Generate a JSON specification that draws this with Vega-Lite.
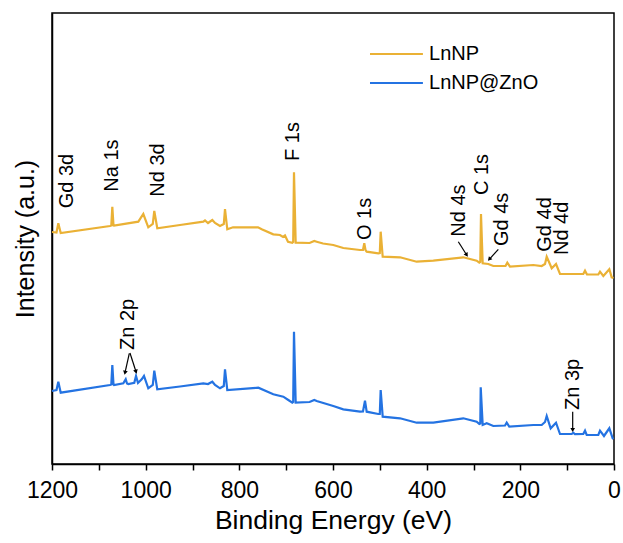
{
  "$schema": "https://vega.github.io/schema/vega-lite/v6.json",
  "autosize": "none",
  "width": 562,
  "height": 451,
  "padding": {"left": 52, "top": 13, "right": 9, "bottom": 79},
  "background": "white",
  "config": {
    "font": "Liberation Sans",
    "view": {"stroke": "black", "strokeWidth": 1.5},
    "axis": {"domainColor": "black", "domainWidth": 1.5, "tickColor": "black", "tickWidth": 1.5, "labelColor": "black", "titleColor": "black", "titleFontWeight": "normal", "grid": false}
  },
  "datasets": {
    "spectra": [
      {"s": "LnNP", "e": 1200, "i": 232}, {"s": "LnNP", "e": 1190.4, "i": 231.5}, {"s": "LnNP", "e": 1186.5, "i": 240.7}, {"s": "LnNP", "e": 1181.4, "i": 231},
      {"s": "LnNP", "e": 1076.1, "i": 238}, {"s": "LnNP", "e": 1073.4, "i": 238.5}, {"s": "LnNP", "e": 1071.2, "i": 257.3}, {"s": "LnNP", "e": 1068.7, "i": 238.5}, {"s": "LnNP", "e": 1067.6, "i": 238.3},
      {"s": "LnNP", "e": 1015.7, "i": 242.3}, {"s": "LnNP", "e": 1005.0, "i": 250}, {"s": "LnNP", "e": 994.4, "i": 236.7}, {"s": "LnNP", "e": 984.8, "i": 240}, {"s": "LnNP", "e": 981.6, "i": 253}, {"s": "LnNP", "e": 975.2, "i": 235.7},
      {"s": "LnNP", "e": 926.7, "i": 239}, {"s": "LnNP", "e": 876.9, "i": 242.3}, {"s": "LnNP", "e": 873.3, "i": 243.5}, {"s": "LnNP", "e": 866.9, "i": 241}, {"s": "LnNP", "e": 857.7, "i": 244}, {"s": "LnNP", "e": 851.9, "i": 241},
      {"s": "LnNP", "e": 841.3, "i": 238}, {"s": "LnNP", "e": 833.2, "i": 240}, {"s": "LnNP", "e": 830.6, "i": 255}, {"s": "LnNP", "e": 825.7, "i": 234.7},
      {"s": "LnNP", "e": 813.5, "i": 236.7}, {"s": "LnNP", "e": 760.1, "i": 236.7}, {"s": "LnNP", "e": 752.2, "i": 234.7}, {"s": "LnNP", "e": 727.5, "i": 229.7}, {"s": "LnNP", "e": 713.2, "i": 229}, {"s": "LnNP", "e": 706.8, "i": 227}, {"s": "LnNP", "e": 702.5, "i": 228.5},
      {"s": "LnNP", "e": 696.1, "i": 222.3}, {"s": "LnNP", "e": 686.9, "i": 221.3}, {"s": "LnNP", "e": 685.0, "i": 222}, {"s": "LnNP", "e": 683.3, "i": 291.7}, {"s": "LnNP", "e": 679.7, "i": 221.3},
      {"s": "LnNP", "e": 650, "i": 221}, {"s": "LnNP", "e": 640, "i": 223}, {"s": "LnNP", "e": 634.8, "i": 222.3}, {"s": "LnNP", "e": 621.3, "i": 220.5}, {"s": "LnNP", "e": 599.4, "i": 219}, {"s": "LnNP", "e": 578.0, "i": 216}, {"s": "LnNP", "e": 542.3, "i": 214},
      {"s": "LnNP", "e": 536.0, "i": 214}, {"s": "LnNP", "e": 533.2, "i": 220.7}, {"s": "LnNP", "e": 530.6, "i": 214}, {"s": "LnNP", "e": 528.1, "i": 212.3}, {"s": "LnNP", "e": 503.3, "i": 210.7},
      {"s": "LnNP", "e": 500.1, "i": 211}, {"s": "LnNP", "e": 498.2, "i": 232.3}, {"s": "LnNP", "e": 493.9, "i": 207.3}, {"s": "LnNP", "e": 456.9, "i": 206.7}, {"s": "LnNP", "e": 421.3, "i": 202.3}, {"s": "LnNP", "e": 385.8, "i": 203.3},
      {"s": "LnNP", "e": 321.8, "i": 206.7}, {"s": "LnNP", "e": 293.2, "i": 203.3}, {"s": "LnNP", "e": 287.6, "i": 201.3}, {"s": "LnNP", "e": 285.5, "i": 202}, {"s": "LnNP", "e": 284.0, "i": 250}, {"s": "LnNP", "e": 280.4, "i": 200.7},
      {"s": "LnNP", "e": 268.4, "i": 200}, {"s": "LnNP", "e": 257.7, "i": 198}, {"s": "LnNP", "e": 231.7, "i": 198}, {"s": "LnNP", "e": 227.8, "i": 201.3}, {"s": "LnNP", "e": 222.1, "i": 197.3},
      {"s": "LnNP", "e": 172.3, "i": 199}, {"s": "LnNP", "e": 154.4, "i": 198}, {"s": "LnNP", "e": 147.3, "i": 200}, {"s": "LnNP", "e": 143.7, "i": 207.3}, {"s": "LnNP", "e": 133.0, "i": 195.7}, {"s": "LnNP", "e": 123.8, "i": 200}, {"s": "LnNP", "e": 115.3, "i": 190},
      {"s": "LnNP", "e": 65.6, "i": 190}, {"s": "LnNP", "e": 61.9, "i": 193.3}, {"s": "LnNP", "e": 57.7, "i": 189.5}, {"s": "LnNP", "e": 33.5, "i": 189.5}, {"s": "LnNP", "e": 29.9, "i": 192.3}, {"s": "LnNP", "e": 22.8, "i": 188}, {"s": "LnNP", "e": 10.0, "i": 194.7}, {"s": "LnNP", "e": 4.9, "i": 186.7}, {"s": "LnNP", "e": 1, "i": 186},

      {"s": "LnNP@ZnO", "e": 1200, "i": 73}, {"s": "LnNP@ZnO", "e": 1190.4, "i": 74}, {"s": "LnNP@ZnO", "e": 1186.5, "i": 82.3}, {"s": "LnNP@ZnO", "e": 1181.4, "i": 71.3},
      {"s": "LnNP@ZnO", "e": 1076.1, "i": 79}, {"s": "LnNP@ZnO", "e": 1073.4, "i": 79.5}, {"s": "LnNP@ZnO", "e": 1071.2, "i": 99}, {"s": "LnNP@ZnO", "e": 1068.7, "i": 79.5}, {"s": "LnNP@ZnO", "e": 1067.6, "i": 79},
      {"s": "LnNP@ZnO", "e": 1047.7, "i": 80.7}, {"s": "LnNP@ZnO", "e": 1042.6, "i": 84.7}, {"s": "LnNP@ZnO", "e": 1039.8, "i": 80.5}, {"s": "LnNP@ZnO", "e": 1037.1, "i": 80}, {"s": "LnNP@ZnO", "e": 1024.3, "i": 81.3},
      {"s": "LnNP@ZnO", "e": 1020.6, "i": 88}, {"s": "LnNP@ZnO", "e": 1016.4, "i": 81}, {"s": "LnNP@ZnO", "e": 1008.5, "i": 84.7}, {"s": "LnNP@ZnO", "e": 1003.6, "i": 88}, {"s": "LnNP@ZnO", "e": 994.4, "i": 75.7},
      {"s": "LnNP@ZnO", "e": 984.8, "i": 79}, {"s": "LnNP@ZnO", "e": 981.6, "i": 93.3}, {"s": "LnNP@ZnO", "e": 975.2, "i": 74.7}, {"s": "LnNP@ZnO", "e": 926.7, "i": 77.5}, {"s": "LnNP@ZnO", "e": 876.9, "i": 80.7},
      {"s": "LnNP@ZnO", "e": 866.9, "i": 80}, {"s": "LnNP@ZnO", "e": 857.7, "i": 82.3}, {"s": "LnNP@ZnO", "e": 851.9, "i": 79}, {"s": "LnNP@ZnO", "e": 841.3, "i": 75.7},
      {"s": "LnNP@ZnO", "e": 833.2, "i": 78}, {"s": "LnNP@ZnO", "e": 830.6, "i": 94.7}, {"s": "LnNP@ZnO", "e": 825.7, "i": 74}, {"s": "LnNP@ZnO", "e": 759.5, "i": 76.3},
      {"s": "LnNP@ZnO", "e": 727.5, "i": 69.7}, {"s": "LnNP@ZnO", "e": 706.1, "i": 67.3}, {"s": "LnNP@ZnO", "e": 695.4, "i": 64}, {"s": "LnNP@ZnO", "e": 686.9, "i": 61.3},
      {"s": "LnNP@ZnO", "e": 685.0, "i": 62}, {"s": "LnNP@ZnO", "e": 683.3, "i": 132.3}, {"s": "LnNP@ZnO", "e": 679.7, "i": 61.3},
      {"s": "LnNP@ZnO", "e": 650, "i": 62}, {"s": "LnNP@ZnO", "e": 640, "i": 64}, {"s": "LnNP@ZnO", "e": 634.8, "i": 63}, {"s": "LnNP@ZnO", "e": 599.4, "i": 58}, {"s": "LnNP@ZnO", "e": 578.0, "i": 54.7}, {"s": "LnNP@ZnO", "e": 542.3, "i": 52.3},
      {"s": "LnNP@ZnO", "e": 536.0, "i": 52.5}, {"s": "LnNP@ZnO", "e": 531.7, "i": 63.3}, {"s": "LnNP@ZnO", "e": 528.1, "i": 52.3}, {"s": "LnNP@ZnO", "e": 503.3, "i": 50},
      {"s": "LnNP@ZnO", "e": 500.1, "i": 50}, {"s": "LnNP@ZnO", "e": 498.2, "i": 74}, {"s": "LnNP@ZnO", "e": 493.9, "i": 47.3}, {"s": "LnNP@ZnO", "e": 456.9, "i": 45.7}, {"s": "LnNP@ZnO", "e": 421.3, "i": 41.3}, {"s": "LnNP@ZnO", "e": 385.8, "i": 41.3},
      {"s": "LnNP@ZnO", "e": 321.8, "i": 45.7}, {"s": "LnNP@ZnO", "e": 293.2, "i": 42.3}, {"s": "LnNP@ZnO", "e": 287.6, "i": 40}, {"s": "LnNP@ZnO", "e": 285.5, "i": 40.5}, {"s": "LnNP@ZnO", "e": 284.6, "i": 76.7}, {"s": "LnNP@ZnO", "e": 280.4, "i": 39},
      {"s": "LnNP@ZnO", "e": 271.8, "i": 40.7}, {"s": "LnNP@ZnO", "e": 257.7, "i": 38}, {"s": "LnNP@ZnO", "e": 232.7, "i": 38.5}, {"s": "LnNP@ZnO", "e": 229.1, "i": 41.3}, {"s": "LnNP@ZnO", "e": 223.6, "i": 37.3},
      {"s": "LnNP@ZnO", "e": 172.3, "i": 39}, {"s": "LnNP@ZnO", "e": 154.4, "i": 39}, {"s": "LnNP@ZnO", "e": 147.3, "i": 42}, {"s": "LnNP@ZnO", "e": 143.7, "i": 48}, {"s": "LnNP@ZnO", "e": 135.2, "i": 35.7}, {"s": "LnNP@ZnO", "e": 123.8, "i": 41.3}, {"s": "LnNP@ZnO", "e": 115.3, "i": 30},
      {"s": "LnNP@ZnO", "e": 90.3, "i": 30}, {"s": "LnNP@ZnO", "e": 86.9, "i": 31.3}, {"s": "LnNP@ZnO", "e": 83.3, "i": 29.8}, {"s": "LnNP@ZnO", "e": 65.6, "i": 30}, {"s": "LnNP@ZnO", "e": 61.9, "i": 33.3}, {"s": "LnNP@ZnO", "e": 58.3, "i": 29},
      {"s": "LnNP@ZnO", "e": 33.5, "i": 29}, {"s": "LnNP@ZnO", "e": 29.9, "i": 33.3}, {"s": "LnNP@ZnO", "e": 21.4, "i": 28}, {"s": "LnNP@ZnO", "e": 10.0, "i": 35.7}, {"s": "LnNP@ZnO", "e": 2.8, "i": 25.7}, {"s": "LnNP@ZnO", "e": 1, "i": 25}
    ],
    "labels": [
      {"t": "Gd 3d", "e": 1168.7, "i": 255.7},
      {"t": "Na 1s", "e": 1072.6, "i": 272.3},
      {"t": "Nd 3d", "e": 973.0, "i": 267.3},
      {"t": "F 1s", "e": 684.8, "i": 303},
      {"t": "O 1s", "e": 531.7, "i": 224},
      {"t": "Nd 4s", "e": 330.3, "i": 227.3},
      {"t": "C 1s", "e": 282.5, "i": 269},
      {"t": "Gd 4s", "e": 239.8, "i": 218},
      {"t": "Gd 4d", "e": 147.3, "i": 212.3},
      {"t": "Nd 4d", "e": 111.7, "i": 209},
      {"t": "Zn 2p", "e": 1037.1, "i": 114},
      {"t": "Zn 3p", "e": 86.9, "i": 54}
    ],
    "arrows": [
      {"e": 332.4, "i": 222.3, "e2": 314.5, "i2": 209, "a": -32},
      {"e": 247.0, "i": 214.7, "e2": 266.3, "i2": 204.7, "a": 42},
      {"e": 1034.9, "i": 110.7, "e2": 1044.1, "i2": 91.3, "a": 12},
      {"e": 1033.5, "i": 111, "e2": 1020.6, "i2": 92.3, "a": -18},
      {"e": 88.2, "i": 52.3, "e2": 88.2, "i2": 34, "a": 0}
    ],
    "legend": [
      {"s": "LnNP", "e": 521, "e2": 408, "i": 410, "te": 395},
      {"s": "LnNP@ZnO", "e": 521, "e2": 408, "i": 381, "te": 395}
    ]
  },
  "layer": [
    {
      "data": {"name": "spectra"},
      "mark": {"type": "line", "strokeWidth": 2.2, "interpolate": "linear"},
      "encoding": {
        "x": {"field": "e", "type": "quantitative", "scale": {"domain": [0, 1200], "reverse": true, "nice": false},
          "axis": {"title": "Binding Energy (eV)", "format": "d", "values": [0, 100, 200, 300, 400, 500, 600, 700, 800, 900, 1000, 1100, 1200], "labelExpr": "datum.value % 200 == 0 ? datum.label : ''", "labelFontSize": 23, "titleFontSize": 26.5, "tickSize": 6, "labelPadding": 9, "titlePadding": 5, "labelFlush": false, "labelOverlap": false}},
        "y": {"field": "i", "type": "quantitative", "scale": {"domain": [0, 451], "nice": false},
          "axis": {"title": "Intensity (a.u.)", "labels": false, "ticks": false, "titleFontSize": 25, "titlePadding": 14}},
        "color": {"field": "s", "type": "nominal", "scale": {"domain": ["LnNP", "LnNP@ZnO"], "range": ["#EAB135", "#2473E2"]}, "legend": null}
      }
    },
    {
      "data": {"name": "legend"},
      "mark": {"type": "rule", "strokeWidth": 2.2},
      "encoding": {
        "x": {"field": "e", "type": "quantitative"},
        "x2": {"field": "e2"},
        "y": {"field": "i", "type": "quantitative"},
        "color": {"field": "s", "type": "nominal", "legend": null}
      }
    },
    {
      "data": {"name": "legend"},
      "mark": {"type": "text", "align": "left", "baseline": "middle", "fontSize": 20, "color": "black"},
      "encoding": {
        "x": {"field": "te", "type": "quantitative"},
        "y": {"field": "i", "type": "quantitative"},
        "text": {"field": "s"}
      }
    },
    {
      "data": {"name": "labels"},
      "mark": {"type": "text", "angle": 270, "align": "left", "baseline": "middle", "fontSize": 20, "color": "black"},
      "encoding": {
        "x": {"field": "e", "type": "quantitative"},
        "y": {"field": "i", "type": "quantitative"},
        "text": {"field": "t"}
      }
    },
    {
      "data": {"name": "arrows"},
      "mark": {"type": "rule", "color": "black", "strokeWidth": 1.2},
      "encoding": {
        "x": {"field": "e", "type": "quantitative"},
        "y": {"field": "i", "type": "quantitative"},
        "x2": {"field": "e2"},
        "y2": {"field": "i2"}
      }
    },
    {
      "data": {"name": "arrows"},
      "mark": {"type": "point", "shape": "triangle-down", "filled": true, "color": "black", "size": 22, "opacity": 1},
      "encoding": {
        "x": {"field": "e2", "type": "quantitative"},
        "y": {"field": "i2", "type": "quantitative"},
        "angle": {"field": "a", "type": "quantitative", "scale": null}
      }
    }
  ]
}
